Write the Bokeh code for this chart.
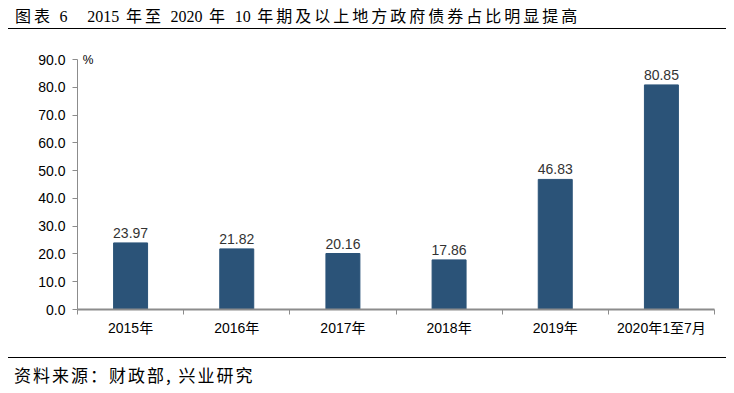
import re
from bokeh.plotting import figure
from bokeh.models import (Range1d, LinearAxis, FixedTicker, Label, ColumnDataSource, Div)
from bokeh.layouts import column
from bokeh.core.properties import value
from bokeh.embed import file_html
from bokeh.resources import INLINE

title_text = "图表 6   2015 年至 2020 年 10 年期及以上地方政府债券占比明显提高"
source_text = "资料来源：财政部, 兴业研究"
categories = ["2015年", "2016年", "2017年", "2018年", "2019年", "2020年1至7月"]
shares = [23.97, 21.82, 20.16, 17.86, 46.83, 80.85]
y_ticks = [0, 10, 20, 30, 40, 50, 60, 70, 80, 90]
unit_label = "%"

W = 734
HDR_H, MAIN_H, FTR_H = 30, 322, 41
BL, BR, BT, BB = 77, 20, 23, 43
Y_TOP = 92.16
BAR = "#2B5378"
AXIS = "#8C8C8C"
LAT = "Liberation Sans, Noto Sans CJK SC"

n = len(categories)
centers = [i + 0.5 for i in range(n)]

# ---- header (title + rule)
DIGIT_SPAN = "<span style=\"font-family:'Liberation Serif';font-size:16px;letter-spacing:0px;\">{}</span>"


def mixed_html(s):
    # Latin digits in a serif face without extra spacing, CJK with letter spacing
    return re.sub(r"[0-9]+", lambda m: DIGIT_SPAN.format(m.group(0)), s)


hdr_html = (
    f"<div style=\"position:relative;width:{W}px;height:{HDR_H}px;\">"
    f"<div style=\"position:absolute;left:15px;top:4px;height:22px;line-height:22px;white-space:pre;"
    f"font-family:'Noto Sans CJK SC';font-size:16px;letter-spacing:3px;color:#000;\">"
    f"{mixed_html(title_text)}</div>"
    f"<div style=\"position:absolute;left:8px;top:28px;width:718px;height:0;"
    f"border-top:1.5px solid #000;\"></div></div>"
)
hdr = Div(text=hdr_html, width=W, height=HDR_H, margin=0)

# ---- main chart
p = figure(width=W, height=MAIN_H, x_range=Range1d(0, n), y_range=Range1d(0, Y_TOP),
           output_backend="svg", toolbar_location=None,
           x_axis_location=None, y_axis_location=None, outline_line_color=None,
           min_border_left=BL, min_border_right=BR, min_border_top=BT, min_border_bottom=BB)
p.grid.visible = False

src = ColumnDataSource(dict(x=centers, val=shares, lab=[f"{v:.2f}" for v in shares]))
p.vbar(x="x", top="val", width=0.32, source=src, fill_color=BAR, line_color=BAR)
p.text(x="x", y="val", text="lab", source=src, text_align="center", text_baseline="bottom",
       y_offset=-5, text_font=value(LAT), text_font_size="14px", text_color="#333333")

yax = LinearAxis(ticker=FixedTicker(ticks=y_ticks), bounds=(0, 90),
                 major_label_overrides={t: f"{t:.1f}" for t in y_ticks})
yax.axis_line_color = AXIS
yax.major_tick_line_color = AXIS
yax.major_tick_in = 0
yax.major_tick_out = 5
yax.minor_tick_line_color = None
yax.major_label_text_font = LAT
yax.major_label_text_font_size = "14px"
yax.major_label_text_color = "#000000"
yax.major_label_standoff = 7
p.add_layout(yax, "left")

edges = list(range(n + 1))
edge_ax = LinearAxis(ticker=FixedTicker(ticks=edges),
                     major_label_overrides={i: "" for i in edges})
edge_ax.axis_line_color = AXIS
edge_ax.axis_line_width = 2
edge_ax.major_tick_line_color = AXIS
edge_ax.major_tick_in = 0
edge_ax.major_tick_out = 5
edge_ax.minor_tick_line_color = None
edge_ax.major_label_text_font_size = "1px"
edge_ax.major_label_standoff = 0
p.add_layout(edge_ax, "below")

cax = LinearAxis(ticker=FixedTicker(ticks=centers),
                 major_label_overrides={c: lab for c, lab in zip(centers, categories)})
cax.axis_line_color = None
cax.major_tick_line_color = None
cax.minor_tick_line_color = None
cax.major_label_text_font = LAT
cax.major_label_text_font_size = "14px"
cax.major_label_text_color = "#000000"
cax.major_label_standoff = -1
p.add_layout(cax, "below")

p.add_layout(Label(x=0.05, y=90, text=unit_label, text_font=LAT, text_font_size="12px",
                   text_baseline="middle", text_color="#000000"))

# ---- footer (rule + source)
ftr_html = (
    f"<div style=\"position:relative;width:{W}px;height:{FTR_H}px;\">"
    f"<div style=\"position:absolute;left:8px;top:5px;width:718px;height:0;"
    f"border-top:1.5px solid #000;\"></div>"
    f"<div style=\"position:absolute;left:14px;top:11px;height:24px;line-height:24px;white-space:pre;"
    f"font-family:'Noto Sans CJK SC';font-size:17px;letter-spacing:2px;color:#000;\">"
    f"{source_text}</div></div>"
)
ftr = Div(text=ftr_html, width=W, height=FTR_H, margin=0)

layout = column(hdr, p, ftr, spacing=0)
open("out.html", "w").write(file_html(layout, INLINE))
